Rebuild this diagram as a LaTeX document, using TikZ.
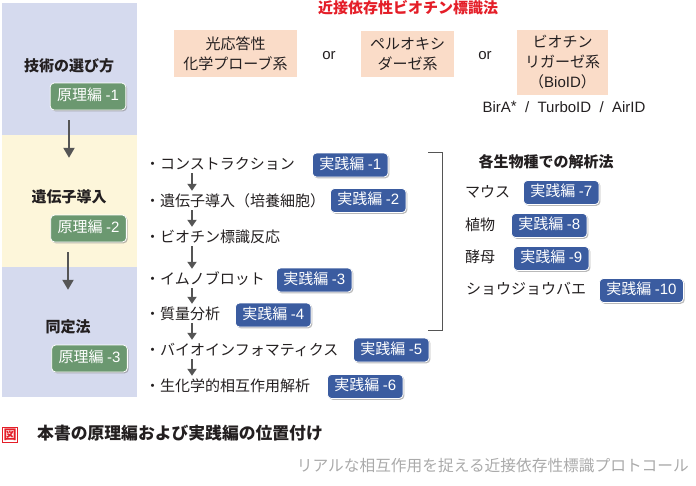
\documentclass[tikz,border=0pt]{standalone}
\usepackage{fontspec}
\setmainfont{Noto Sans CJK JP}
\newfontfamily\lat{Liberation Sans}
\usetikzlibrary{arrows.meta,shadows}

\definecolor{ink}{RGB}{35,31,32}
\definecolor{panelblue}{RGB}{213,218,238}
\definecolor{panelyellow}{RGB}{253,246,218}
\definecolor{probepeach}{RGB}{250,220,200}
\definecolor{jblue}{RGB}{59,92,160}
\definecolor{ggreen}{RGB}{107,152,112}
\definecolor{titlered}{RGB}{228,30,40}
\definecolor{arrgray}{RGB}{85,85,85}
\definecolor{subgray}{RGB}{170,170,170}

\begin{document}
\begin{tikzpicture}[
    x=1pt, y=-1pt,
    txt/.style={inner sep=0pt, text=ink, font=\fontsize{15}{17}\selectfont,
      text height=11pt, text depth=3pt},
    head/.style={txt, font=\fontsize{15}{17}\selectfont\bfseries},
    item/.style={txt, anchor=west},
    badge/.style={rounded corners=4pt, draw=white, line width=0.8pt, text=white,
      font=\fontsize{15}{16}\selectfont, inner xsep=7pt, inner ysep=0pt,
      text height=11pt, text depth=2.5pt, minimum height=24pt,
      drop shadow={shadow xshift=1.3pt, shadow yshift=-1.3pt, fill=black!50, opacity=0.55}},
    jbadge/.style={badge, fill=jblue, anchor=west},
    gbadge/.style={badge, fill=ggreen, minimum height=27pt},
    probe/.style={fill=probepeach, inner sep=0pt, align=center, text=ink,
      font=\fontsize{15}{20}\selectfont},
    bigarr/.style={-{Triangle[width=11pt,length=10pt]}, line width=2pt, draw=arrgray},
    midarr/.style={-{Triangle[width=9pt,length=7pt]}, line width=2pt, draw=arrgray,
      shorten <=1pt, shorten >=4pt}
]
  \useasboundingbox (0,0) rectangle (696,485);

  % 左の帯
  \fill[panelblue] (2,3) rectangle (137,135);
  \fill[panelyellow] (2,135) rectangle (137,267);
  \fill[panelblue] (2,267) rectangle (137,397);

  \node[head] (sel) at (69,67) {技術の選び方};
  \node[gbadge] (g1) at (88,96.5) {原理編 {\lat -1}};
  \node[head] (gene) at (69,198) {遺伝子導入};
  \node[gbadge] (g2) at (88.5,228.5) {原理編 {\lat -2}};
  \node[head] (ident) at (68,328) {同定法};
  \node[gbadge] (g3) at (89.5,358.5) {原理編 {\lat -3}};

  \draw[bigarr, shorten <=10pt, shorten >=33pt] (g1.south -| gene.north) -- (gene.north);
  \draw[bigarr, shorten <=10pt, shorten >=31pt] (g2.south -| ident.north) -- (ident.north);

  % 上の3つの方法
  \node[txt, font=\fontsize{15}{17}\selectfont\bfseries, text=titlered] (title) at (408,9) {近接依存性ビオチン標識法};
  \node[probe, minimum width=123pt, minimum height=47pt] (m1) at (235.5,53.5) {光応答性\\化学プローブ系};
  \node[txt, font=\fontsize{15}{17}\lat] (or1) at (329,55) {or};
  \node[probe, minimum width=93pt, minimum height=46pt] (m2) at (407.5,54) {ペルオキシ\\ダーゼ系};
  \node[txt, font=\fontsize{15}{17}\lat] (or2) at (485,55) {or};
  \node[probe, minimum width=91pt, minimum height=65pt] (m3) at (562.5,62.5) {ビオチン\\リガーゼ系\\（{\lat BioID}）};
  \node[txt, font=\fontsize{15}{17}\lat] (bira) at (564,108) {BirA\raisebox{1pt}{*}\ \ /\ \ TurboID\ \ /\ \ AirID};

  % 手順
  \node[item] (s1) at (145,165) {・コンストラクション};
  \node[jbadge] (j1) at (312,165) {実践編 {\lat -1}};
  \node[item] (s2) at (145,202) {・遺伝子導入（培養細胞）};
  \node[jbadge] (j2) at (330,200.5) {実践編 {\lat -2}};
  \node[item] (s3) at (145,238) {・ビオチン標識反応};
  \node[item] (s4) at (145,280) {・イムノブロット};
  \node[jbadge] (j3) at (276,280) {実践編 {\lat -3}};
  \node[item] (s5) at (145,315) {・質量分析};
  \node[jbadge] (j4) at (235,315) {実践編 {\lat -4}};
  \node[item] (s6) at (145,351) {・バイオインフォマティクス};
  \node[jbadge] (j5) at (353,350) {実践編 {\lat -5}};
  \node[item] (s7) at (145,387) {・生化学的相互作用解析};
  \node[jbadge] (j6) at (327,386.5) {実践編 {\lat -6}};

  \draw[midarr] ([xshift=47pt]s1.south west) -- ([xshift=47pt]s2.north west);
  \draw[midarr] ([xshift=47pt]s2.south west) -- ([xshift=47pt]s3.north west);
  \draw[midarr] ([xshift=47pt]s3.south west) -- ([xshift=47pt]s4.north west);
  \draw[midarr] ([xshift=47pt]s4.south west) -- ([xshift=47pt]s5.north west);
  \draw[midarr] ([xshift=47pt]s5.south west) -- ([xshift=47pt]s6.north west);
  \draw[midarr] ([xshift=47pt]s6.south west) -- ([xshift=47pt]s7.north west);

  % 括弧
  \draw[arrgray, line width=1pt] (428,152) -- (442,152) -- (442,330) -- (428,330);

  % 生物種
  \node[head] (org) at (546,163) {各生物種での解析法};
  \node[item] (o1) at (465,193) {マウス};
  \node[jbadge] (j7) at (523,192.5) {実践編 {\lat -7}};
  \node[item] (o2) at (465,226) {植物};
  \node[jbadge] (j8) at (511,225.5) {実践編 {\lat -8}};
  \node[item] (o3) at (465,258) {酵母};
  \node[jbadge] (j9) at (513,258.5) {実践編 {\lat -9}};
  \node[item] (o4) at (466,290) {ショウジョウバエ};
  \node[jbadge] (j10) at (599,290.5) {実践編 {\lat -10}};

  % キャプション
  \node[draw=titlered, text=titlered, line width=0.9pt, minimum size=15pt, inner sep=0pt,
    font=\fontsize{13}{13}\selectfont\bfseries] (zu) at (10,435) {図};
  \node[txt, anchor=west, font=\fontsize{16.8}{18}\selectfont\bfseries] (cap) at (37,435) {本書の原理編および実践編の位置付け};
  \node[txt, anchor=east, text=subgray, font=\fontsize{15.7}{17}\selectfont] (sub) at (689,467) {リアルな相互作用を捉える近接依存性標識プロトコール};
\end{tikzpicture}
\end{document}
